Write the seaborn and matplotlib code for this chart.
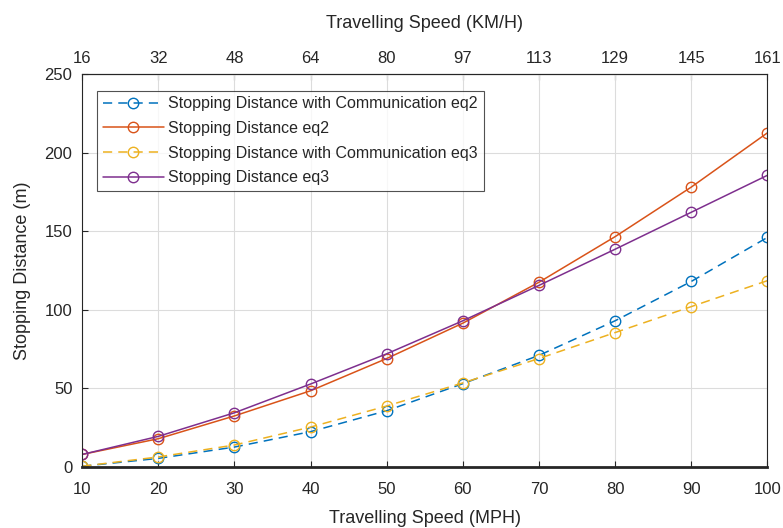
import numpy as np
import pandas as pd
import seaborn as sns
import matplotlib.pyplot as plt

speed_mph = [10, 20, 30, 40, 50, 60, 70, 80, 90, 100]
speed_kmh = [16, 32, 48, 64, 80, 97, 113, 129, 145, 161]

comm_eq2 = [0.5, 5.5, 12.7, 22.5, 35.8, 53, 71, 93, 118, 146]
stop_eq2 = [8, 18, 32.5, 48.5, 69, 91.5, 117.5, 146.5, 178, 212.5]
comm_eq3 = [0.5, 6.4, 14, 25.4, 38.8, 53.5, 69, 85.5, 102, 118.5]
stop_eq3 = [8, 19.5, 34.5, 52.8, 72, 93, 115.5, 138.5, 162, 185.5]

labels = ['Stopping Distance with Communication eq2', 'Stopping Distance eq2',
          'Stopping Distance with Communication eq3', 'Stopping Distance eq3']
colors = ['#0072BD', '#D95319', '#EDB120', '#7E2F8E']
styles = [(0, (6, 4)), '-', (0, (6, 4)), '-']

sns.set_style('ticks')
plt.rcParams['font.family'] = ['Liberation Sans', 'DejaVu Sans']

fig = plt.figure(figsize=(7.83, 5.28), dpi=100)
ax = fig.add_axes([0.105, 0.1155, 0.875, 0.7445])

for series, lab, col, ls in zip([comm_eq2, stop_eq2, comm_eq3, stop_eq3], labels, colors, styles):
    df = pd.DataFrame({'mph': speed_mph, 'dist': series})
    sns.lineplot(data=df, x='mph', y='dist', ax=ax, color=col, linestyle=ls, lw=1.1,
                 marker='o', markersize=7.5, markerfacecolor='none', markeredgecolor=col,
                 markeredgewidth=1.0, label=lab)

ax.set_xlim(10, 100)
ax.set_ylim(0, 250)
ax.set_xticks(speed_mph)
ax.set_yticks([0, 50, 100, 150, 200, 250])
ax.grid(True, color='#dcdcdc', lw=0.8)
ax.tick_params(axis='x', direction='in', labelsize=12, colors='#262626', length=4, pad=11)
ax.tick_params(axis='y', direction='in', labelsize=12, colors='#262626', length=4, pad=7)
for s in ax.spines.values():
    s.set_color('#262626')
    s.set_linewidth(0.8)
ax.spines['bottom'].set_linewidth(2)
ax.set_xlabel('Travelling Speed (MPH)', fontsize=13, color='#262626', labelpad=9)
ax.set_ylabel('Stopping Distance (m)', fontsize=13, color='#262626', labelpad=10)

top = ax.secondary_xaxis('top')
top.set_xticks(speed_mph)
top.set_xticklabels([str(v) for v in speed_kmh])
top.tick_params(direction='in', labelsize=12, colors='#262626', length=4, pad=6)
top.set_xlabel('Travelling Speed (KM/H)', fontsize=13, color='#262626', labelpad=16)

leg = ax.legend(loc='upper left', bbox_to_anchor=(0.022, 0.957), fontsize=11.5,
                frameon=True, fancybox=False, edgecolor='#262626', handlelength=3.8,
                borderpad=0.35, labelspacing=0.6, handletextpad=0.3, borderaxespad=0)
leg.get_frame().set_linewidth(0.8)

fig.savefig('out.png', dpi=100)
